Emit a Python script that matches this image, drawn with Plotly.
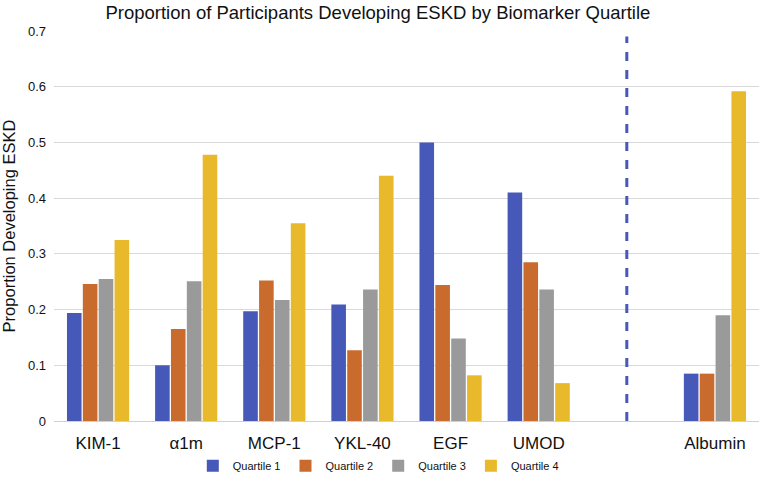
import plotly.graph_objects as go

categories = ["KIM-1", "α1m", "MCP-1", "YKL-40", "EGF", "UMOD", " ", "Albumin"]
series_names = ["Quartile 1", "Quartile 2", "Quartile 3", "Quartile 4"]
q1 = [0.194, 0.100, 0.197, 0.209, 0.500, 0.410, None, 0.085]
q2 = [0.246, 0.165, 0.252, 0.127, 0.244, 0.285, None, 0.085]
q3 = [0.255, 0.251, 0.217, 0.236, 0.148, 0.236, None, 0.190]
q4 = [0.325, 0.478, 0.355, 0.440, 0.082, 0.068, None, 0.592]
series_values = [q1, q2, q3, q4]
colors = ["#4658B8", "#CA6B2E", "#9A9A9A", "#E8B92A"]
y_ticks = [0, 0.1, 0.2, 0.3, 0.4, 0.5, 0.6, 0.7]
divider_category = " "
divider_span = [0, 0.69]

fig = go.Figure()
for name, vals, col in zip(series_names, series_values, colors):
    fig.add_trace(go.Bar(x=categories, y=vals, name=name, marker=dict(color=col, line=dict(width=0))))

fig.add_trace(go.Scatter(x=[divider_category, divider_category], y=divider_span, mode="lines",
                         line=dict(color="#4658B8", width=3, dash="dash"), showlegend=False,
                         hoverinfo="skip"))

fig.update_layout(
    width=765, height=480,
    margin=dict(l=54, r=6, t=31, b=59, autoexpand=False),
    paper_bgcolor="white", plot_bgcolor="white",
    font=dict(family="Liberation Sans, Arial, sans-serif", color="#111111"),
    title=dict(text="Proportion of Participants Developing ESKD by Biomarker Quartile",
               x=0.494, xanchor="center", y=0.973, yanchor="middle", font=dict(size=18.5)),
    barmode="group", bargap=0.28, bargroupgap=0.08,
    legend=dict(orientation="h", x=0.46, xanchor="center", y=-0.115, yanchor="middle",
                font=dict(size=11), itemwidth=30, traceorder="normal"),
    xaxis=dict(type="category", categoryorder="array", categoryarray=categories,
               tickfont=dict(size=17), showgrid=False, showline=True, linecolor="#d0d0d0",
               linewidth=1, ticks="", range=[-0.5, 7.5], automargin=False, ticklabelstandoff=7),
    yaxis=dict(range=[0, 0.7], tickvals=y_ticks, ticktext=[("%g" % v) for v in y_ticks],
               tickfont=dict(size=13), showgrid=True, gridcolor="#d9d9d9", gridwidth=1,
               zeroline=False, showline=False, ticks="", automargin=False, ticklabelstandoff=7,
               title=dict(text="Proportion Developing ESKD", font=dict(size=16.5), standoff=12)),
)

# remove the browser's default 8px page margin so the figure sits at the window's corner
fig.write_html("out.html", config={"displayModeBar": False},
               post_script="document.body.style.margin='0';")
